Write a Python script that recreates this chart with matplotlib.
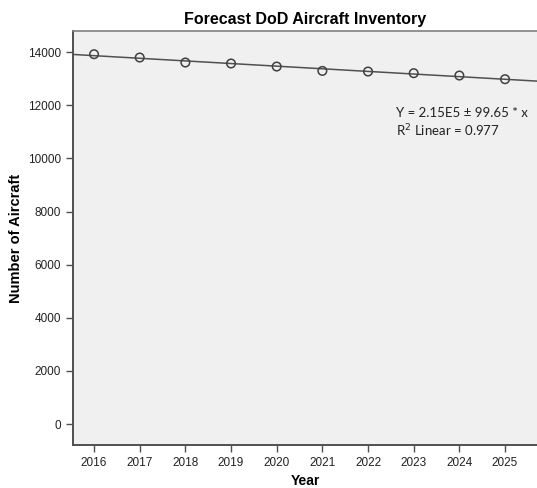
import numpy as np
import matplotlib
matplotlib.use("Agg")
import matplotlib.pyplot as plt

years = [2016, 2017, 2018, 2019, 2020, 2021, 2022, 2023, 2024, 2025]
aircraft = [13925, 13800, 13612, 13575, 13461, 13296, 13273, 13210, 13122, 12984]
y_ticks = [0, 2000, 4000, 6000, 8000, 10000, 12000, 14000]

plt.rcParams['font.family'] = ['Liberation Sans', 'DejaVu Sans']

fig = plt.figure(figsize=(5.37, 4.88), dpi=100)
ax = fig.add_axes([0.136, 0.088, 0.864, 0.848])
ax.set_facecolor('#f0f0f0')

# linear fit line across the whole axis
xlim = (2015.54, 2025.7)
slope, intercept = np.polyfit(years, aircraft, 1)
fx = np.array(xlim)
ax.plot(fx, slope * fx + intercept, color='#505050', lw=1.1, zorder=2)
ax.scatter(years, aircraft, s=38, facecolors='none', edgecolors='#404040', linewidths=1.1, zorder=3)

ax.set_xlim(*xlim)
ax.set_ylim(-790, 14790)
ax.set_xticks(years)
ax.set_yticks(y_ticks)
ax.tick_params(direction='out', length=5, width=1, colors='#505050', labelcolor='#222222', labelsize=8.5)

ax.spines['right'].set_visible(False)
for s in ['left', 'bottom']:
    ax.spines[s].set_color('#505050')
    ax.spines[s].set_linewidth(1.4)
ax.spines['top'].set_color('#808080')
ax.spines['top'].set_linewidth(1.2)

ax.set_title("Forecast DoD Aircraft Inventory", fontsize=11.5, fontweight='bold', pad=5)
ax.set_xlabel("Year", fontsize=10, fontweight='bold', labelpad=4)
ax.set_ylabel("Number of Aircraft", fontsize=10.5, fontweight='bold', labelpad=4)

ax.text(2022.62, 11700, "Y = 2.15E5 \u00b1 99.65 * x", fontsize=9.5, va='center', color='#222222', family=['Lato', 'DejaVu Sans'])
ax.text(2022.62, 11030, "R$^2$ Linear = 0.977", fontsize=9.5, va='center', color='#222222', family=['Lato', 'DejaVu Sans'])

fig.savefig("out.png", dpi=100)
